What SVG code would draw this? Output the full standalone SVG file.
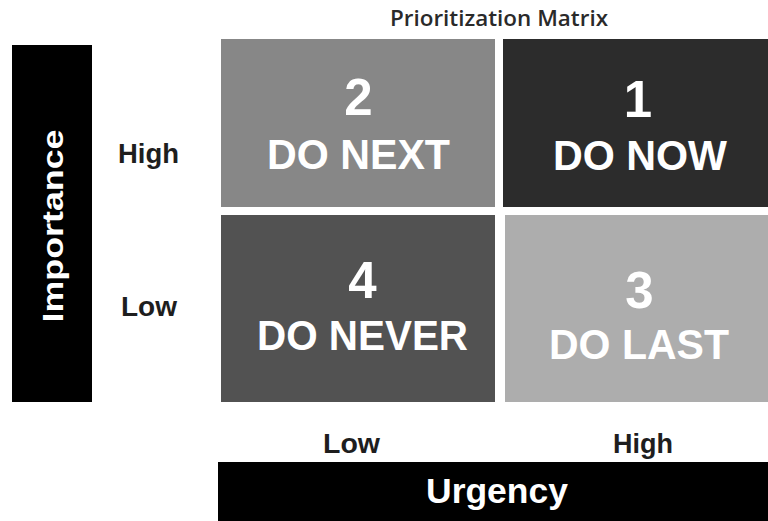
<svg xmlns="http://www.w3.org/2000/svg" width="768" height="521" viewBox="0 0 768 521">
  <style>
    .bar { fill: #000000; }
    .bar-text { font-family: "Liberation Sans", Arial, sans-serif; font-weight: bold; fill: #ffffff; text-anchor: middle; }
    .axis-label { font-family: "Liberation Sans", Arial, sans-serif; font-weight: bold; font-size: 28px; fill: #1e1e1e; text-anchor: middle; }
    .num { font-family: "Liberation Sans", Arial, sans-serif; font-weight: bold; font-size: 51px; fill: #ffffff; text-anchor: middle; }
    .action { font-family: "Liberation Sans", Arial, sans-serif; font-weight: bold; font-size: 42px; fill: #ffffff; text-anchor: middle; }
    .title { font-family: "Open Sans", "Liberation Sans", sans-serif; font-weight: 600; font-size: 22px; fill: #2a2a2a; text-anchor: middle; }
  </style>

  <rect width="768" height="521" fill="#ffffff"/>

  <!-- chart title -->
  <g id="title">
    <text class="title" x="499" y="26" textLength="218" lengthAdjust="spacingAndGlyphs">Prioritization Matrix</text>
  </g>

  <!-- vertical axis: importance -->
  <g id="importance-axis">
    <rect class="bar" x="12" y="45" width="80" height="357"/>
    <text class="bar-text" font-size="30" transform="translate(63,226) rotate(-90)" x="0" y="0" textLength="193" lengthAdjust="spacingAndGlyphs">Importance</text>
    <text class="axis-label" x="148.5" y="163" textLength="61" lengthAdjust="spacingAndGlyphs">High</text>
    <text class="axis-label" x="149" y="316" textLength="56" lengthAdjust="spacingAndGlyphs">Low</text>
  </g>

  <!-- horizontal axis: urgency -->
  <g id="urgency-axis">
    <rect class="bar" x="218" y="462" width="550" height="59"/>
    <text class="bar-text" font-size="35" x="497" y="503" textLength="142" lengthAdjust="spacingAndGlyphs">Urgency</text>
    <text class="axis-label" x="351.5" y="453" textLength="57" lengthAdjust="spacingAndGlyphs">Low</text>
    <text class="axis-label" x="643" y="453" textLength="60" lengthAdjust="spacingAndGlyphs">High</text>
  </g>

  <!-- quadrant 2: high importance, low urgency -->
  <g id="q2-do-next">
    <rect x="221" y="39" width="274" height="168" fill="#878787"/>
    <text class="num" x="358.5" y="115">2</text>
    <text class="action" x="358.5" y="169" textLength="183" lengthAdjust="spacingAndGlyphs">DO NEXT</text>
  </g>

  <!-- quadrant 1: high importance, high urgency -->
  <g id="q1-do-now">
    <rect x="503" y="39" width="265" height="168" fill="#2c2c2c"/>
    <text class="num" x="638" y="117">1</text>
    <text class="action" x="640" y="170" textLength="174" lengthAdjust="spacingAndGlyphs">DO NOW</text>
  </g>

  <!-- quadrant 4: low importance, low urgency -->
  <g id="q4-do-never">
    <rect x="221" y="215" width="274" height="187" fill="#525252"/>
    <text class="num" x="362.5" y="298">4</text>
    <text class="action" x="362.5" y="350" textLength="211" lengthAdjust="spacingAndGlyphs">DO NEVER</text>
  </g>

  <!-- quadrant 3: low importance, high urgency -->
  <g id="q3-do-last">
    <rect x="505" y="215" width="263" height="187" fill="#adadad"/>
    <text class="num" x="639.5" y="308">3</text>
    <text class="action" x="639" y="359" fill="#f4f4f4" textLength="180" lengthAdjust="spacingAndGlyphs">DO LAST</text>
  </g>

  <!-- no connectors in this chart -->
  <g id="connectors"/>
</svg>
